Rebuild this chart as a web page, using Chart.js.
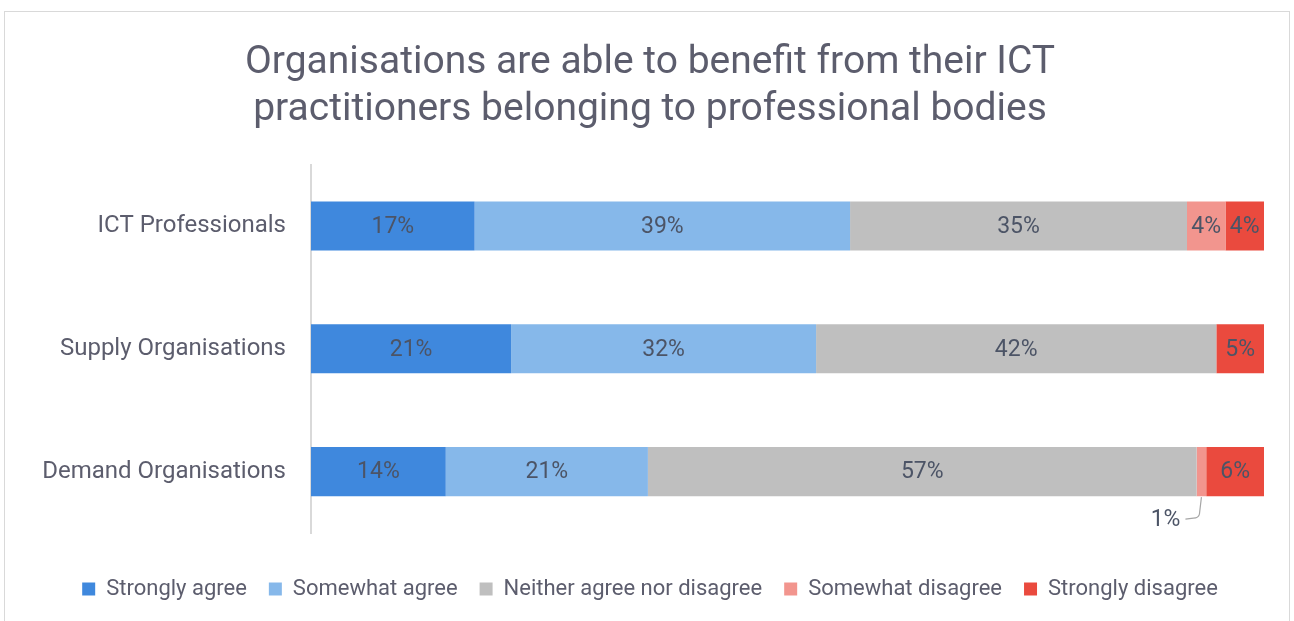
<!DOCTYPE html>
<html>
<head>
<meta charset="utf-8">
<script src="https://cdn.jsdelivr.net/npm/chart.js@4.4.1/dist/chart.umd.min.js"></script>
<style>
  html, body { margin: 0; padding: 0; background: #ffffff; }
  body { width: 1294px; height: 621px; position: relative; overflow: hidden; }
  #frame {
    position: absolute; left: 4px; top: 11px; width: 1286px; height: 640px;
    border: 1px solid #d9d9d9; box-sizing: border-box;
  }
  #wrap { position: absolute; left: 0; top: 0; width: 1294px; height: 621px; }
</style>
</head>
<body>
<div id="frame"></div>
<div id="wrap"><canvas id="chart" width="1294" height="621"></canvas></div>
<script>
// Respondent groups (rows of the chart)
const categories = ['ICT Professionals', 'Supply Organisations', 'Demand Organisations'];

// Answer share per group, in percent
const stronglyAgree    = [17, 21, 14];
const somewhatAgree    = [39, 32, 21];
const neitherAgree     = [35, 42, 57];
const somewhatDisagree = [4, 0, 1];
const stronglyDisagree = [4, 5, 6];

const seriesNames = ['Strongly agree', 'Somewhat agree', 'Neither agree nor disagree', 'Somewhat disagree', 'Strongly disagree'];
const seriesValues = [stronglyAgree, somewhatAgree, neitherAgree, somewhatDisagree, stronglyDisagree];
const seriesColors = ['#3f88dd', '#86b8ea', '#bfbfbf', '#f2958e', '#ea4a3e'];

const titleLines = ['Organisations are able to benefit from their ICT', 'practitioners belonging to professional bodies'];

const FONT = "Roboto, 'Open Sans', sans-serif";
const TEXT = '#5c5d6d';
const LABEL = '#4c5466';

// 100% stacked: each bar spans its row total
const rowTotals = categories.map((_, i) => seriesValues.reduce((s, arr) => s + arr[i], 0));

const datasets = seriesNames.map((name, k) => ({
  label: name,
  data: seriesValues[k].map((v, i) => v / rowTotals[i] * 100),
  raw: seriesValues[k],
  backgroundColor: seriesColors[k],
  borderWidth: 0,
  categoryPercentage: 1,
  barPercentage: 0.4
}));

// Writes the percentage inside each segment; small slices get a callout below the bar
const segmentLabels = {
  id: 'segmentLabels',
  afterDatasetsDraw(chart) {
    const ctx = chart.ctx;
    ctx.save();
    ctx.font = '23px ' + FONT;
    ctx.fillStyle = LABEL;
    ctx.textAlign = 'center';
    ctx.textBaseline = 'middle';
    chart.data.datasets.forEach((ds, k) => {
      const meta = chart.getDatasetMeta(k);
      meta.data.forEach((bar, i) => {
        const v = ds.raw[i];
        if (!v) return;
        const left = Math.min(bar.x, bar.base);
        const right = Math.max(bar.x, bar.base);
        const cx = (left + right) / 2;
        if (v >= 2) {
          ctx.fillText(v + '%', cx, bar.y + 1);
        } else {
          const bottom = bar.y + bar.height / 2;
          ctx.strokeStyle = '#a6a6a6';
          ctx.lineWidth = 1.2;
          ctx.beginPath();
          ctx.moveTo(cx, bottom + 1);
          ctx.lineTo(cx - 2, bottom + 18);
          ctx.quadraticCurveTo(cx - 3, bottom + 22, cx - 8, bottom + 22);
          ctx.lineTo(cx - 16, bottom + 23);
          ctx.stroke();
          ctx.textAlign = 'right';
          ctx.fillText(v + '%', cx - 21, bottom + 24);
          ctx.textAlign = 'center';
        }
      });
    });
    ctx.restore();
  }
};

new Chart(document.getElementById('chart'), {
  type: 'bar',
  data: { labels: categories, datasets },
  options: {
    indexAxis: 'y',
    responsive: false,
    animation: false,
    layout: { padding: { left: 36, right: 30, top: 0, bottom: 11 } },
    scales: {
      x: {
        stacked: true, min: 0, max: 100, display: true,
        ticks: { display: false },
        grid: { display: false },
        border: { display: false },
        afterFit(scale) { scale.height = 23; }
      },
      y: {
        stacked: true,
        grid: { display: false },
        border: { display: true, color: '#d9d9d9', width: 2 },
        ticks: { color: TEXT, font: { family: FONT, size: 24 }, padding: 17 },
        afterFit(scale) { scale.width = 275; }
      }
    },
    plugins: {
      title: {
        display: true,
        text: titleLines,
        color: TEXT,
        font: { family: FONT, size: 39, weight: 'normal', lineHeight: 1.2 },
        padding: { top: 40, bottom: 31 }
      },
      legend: {
        position: 'bottom',
        labels: {
          color: TEXT,
          font: { family: FONT, size: 22 },
          boxWidth: 13,
          boxHeight: 13,
          padding: 22
        }
      },
      tooltip: { enabled: false }
    }
  },
  plugins: [segmentLabels]
});
</script>
</body>
</html>
